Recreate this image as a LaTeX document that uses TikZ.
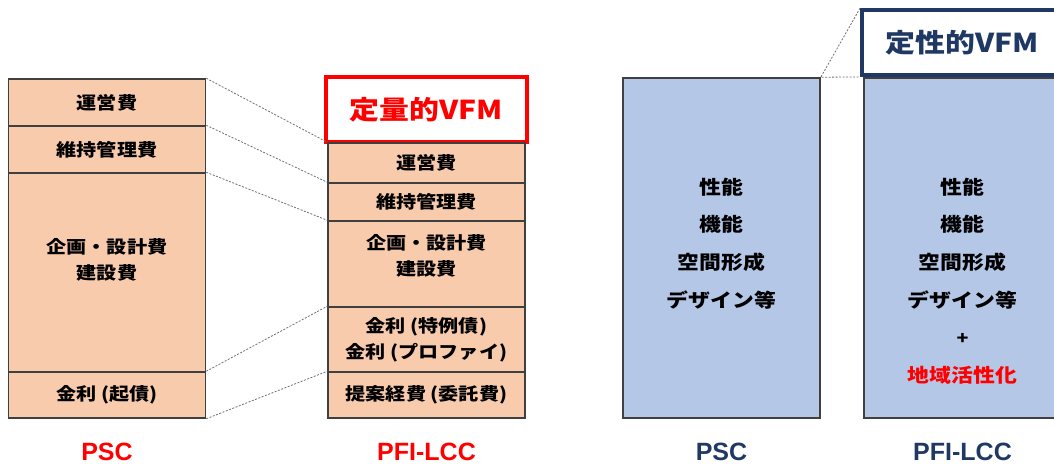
\documentclass[tikz,border=0pt]{standalone}
\usepackage{fontspec}
\setmainfont{Noto Sans CJK JP}[FakeStretch=1.15]
\newfontfamily\capfont{Liberation Sans}
\usetikzlibrary{positioning}
\definecolor{costfill}{HTML}{F8CBAD}
\definecolor{qualfill}{HTML}{B4C7E7}
\definecolor{cellline}{HTML}{404040}
\definecolor{navy}{HTML}{1F3864}
\definecolor{vfmred}{HTML}{FF0000}
\definecolor{linkgray}{HTML}{707070}
\tikzset{
  costcell/.style={rectangle,draw=cellline,line width=1.5pt,fill=costfill,minimum width=197pt,inner sep=0pt,align=center,font=\bfseries\fontsize{17.5}{26}\selectfont},
  qualcell/.style={rectangle,draw=cellline,line width=1.5pt,fill=qualfill,minimum width=197pt,minimum height=340pt,inner sep=0pt},
  celltext/.style={inner sep=0pt,align=center,font=\bfseries\fontsize{17.5}{26}\selectfont},
  qualtext/.style={inner sep=0pt,align=center,font=\bfseries\fontsize{19}{37.6}\selectfont},
  vfmhead/.style={rectangle,line width=3.8pt,fill=white,minimum width=201pt,minimum height=65pt,inner sep=0pt,font=\bfseries\fontsize{26}{30}\selectfont},
  caption/.style={inner sep=0pt,font=\capfont\bfseries\fontsize{25}{28}\selectfont},
  linkline/.style={draw=linkgray,line width=0.8pt,dash pattern=on 2pt off 1.5pt}
}
\begin{document}
\begin{tikzpicture}[x=1pt,y=-1pt]
  \useasboundingbox (0,0) rectangle (1054,465);
  % quantitative VFM: PSC
  \node[costcell,minimum height=47pt] (pscA) at (107,102.5) {運営費};
  \node[costcell,minimum height=47pt] (pscB) at (107,149.5) {維持管理費};
  \node[costcell,minimum height=199pt] (pscC) at (107,272.5) {};
  \node[celltext] (pscCtext) at (107,260) {企画・設計費\\建設費};
  \node[costcell,minimum height=46pt] (pscD) at (107,395) {金利 (起債)};
  % quantitative VFM: PFI-LCC
  \node[vfmhead,draw=vfmred,text=vfmred] (quant) at (426.5,109.5) {定量的VFM};
  \node[costcell,minimum height=40pt] (pfiA) at (426.5,163) {運営費};
  \node[costcell,minimum height=38pt] (pfiB) at (426.5,202) {維持管理費};
  \node[costcell,minimum height=86pt] (pfiC) at (426.5,264) {};
  \node[celltext] (pfiCtext) at (426.5,256) {企画・設計費\\建設費};
  \node[costcell,minimum height=65pt] (pfiD) at (426.5,339.5) {金利 (特例債)\\金利 (プロファイ)};
  \node[costcell,minimum height=46pt] (pfiE) at (426.5,395) {提案経費 (委託費)};
  % links between the two stacks
  \draw[linkline] (pscA.north east) -- (pfiA.north west);
  \draw[linkline] (pscB.north east) -- (pfiB.north west);
  \draw[linkline] (pscC.north east) -- (pfiC.north west);
  \draw[linkline] (pscD.north east) -- (pfiD.north west);
  \draw[linkline] (pscD.south east) -- (pfiE.north west);
  % qualitative VFM
  \node[qualcell] (qpsc) at (721.5,248) {};
  \node[qualtext] (qpsctext) at (721.5,243.5) {性能\\機能\\空間形成\\デザイン等};
  \node[qualcell] (qpfi) at (962.5,248) {};
  \node[qualtext] (qpfitext) at (962.5,281) {性能\\機能\\空間形成\\デザイン等\\{\fontsize{17}{37.6}\selectfont +}\\{\color{vfmred}地域活性化}};
  \node[vfmhead,draw=navy,text=navy] (qual) at (962.5,42.5) {定性的VFM};
  \draw[linkline] (qual.north west) -- (qpsc.north east) -- (qual.south west);
  % captions
  \node[caption,text=vfmred] (cappsc) at (107,452) {PSC};
  \node[caption,text=vfmred] (cappfi) at (426.5,452) {PFI-LCC};
  \node[caption,text=navy] (capqpsc) at (721.5,452) {PSC};
  \node[caption,text=navy] (capqpfi) at (962.5,452) {PFI-LCC};
\end{tikzpicture}
\end{document}
